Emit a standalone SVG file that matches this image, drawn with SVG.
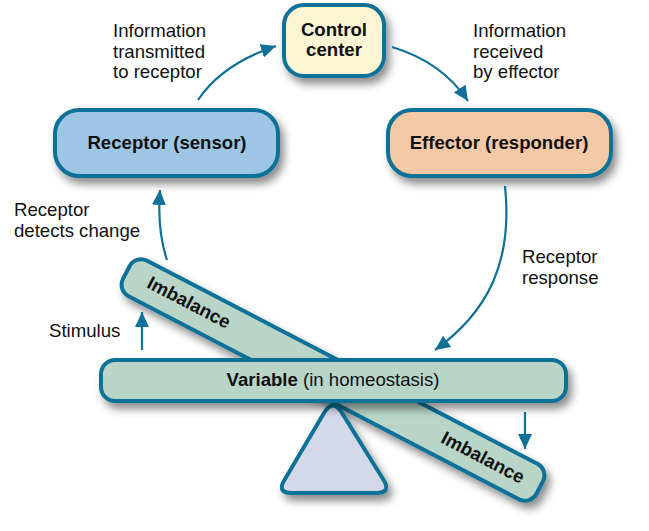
<svg xmlns="http://www.w3.org/2000/svg" width="649" height="531" viewBox="0 0 649 531">
<style>
.box{stroke:#0f7198;stroke-width:4}
.t{font-family:"Liberation Sans",Arial,sans-serif;font-size:18.6px;fill:#111}
.b{font-weight:bold}
.c{text-anchor:middle}
.con{fill:none;stroke:#0f7198;stroke-width:2.2}
</style>
<defs>
<filter id="sh" x="-20%" y="-20%" width="150%" height="160%">
<feDropShadow dx="4" dy="6" stdDeviation="4" flood-color="#000" flood-opacity="0.45"/>
</filter>
<marker id="ah" markerUnits="userSpaceOnUse" markerWidth="16" markerHeight="14" refX="15" refY="7" orient="auto">
<path d="M0,0 L15,7 L0,14 z" fill="#0f7198"/>
</marker>
</defs>
<rect width="649" height="531" fill="#fff"/>
<g id="imbalance" filter="url(#sh)">
<rect class="box" x="-233" y="-20" width="466" height="40" rx="13" fill="#b8d5c8" transform="translate(333,380) rotate(27.5)"/>
</g>
<g id="imbalance-labels">
<text class="t b c" transform="translate(186,308) rotate(27.5)">Imbalance</text>
<text class="t b c" transform="translate(480,463) rotate(27.5)">Imbalance</text>
</g>
<g id="fulcrum" filter="url(#sh)">
<path class="box" d="M324,413 Q333,398 342,413 L383,479 Q392,493 376,493 L292,493 Q276,493 285,479 Z" fill="#d4d9ea" stroke-linejoin="round"/>
</g>
<g id="variable">
<rect class="box" x="101" y="360" width="465" height="41" rx="14" fill="#b8d5c8" filter="url(#sh)"/>
<text class="t c" x="333" y="386"><tspan class="b">Variable</tspan> (in homeostasis)</text>
</g>
<g id="control-center">
<rect class="box" x="284" y="5" width="100" height="71" rx="20" fill="#fbf5d3" filter="url(#sh)"/>
<text class="t b c" x="334" y="36">Control</text>
<text class="t b c" x="334" y="56">center</text>
</g>
<g id="receptor">
<rect class="box" x="55" y="110" width="223" height="66" rx="24" fill="#9dc6e4" filter="url(#sh)"/>
<text class="t b c" x="167" y="149">Receptor (sensor)</text>
</g>
<g id="effector">
<rect class="box" x="388" y="110" width="223" height="66" rx="24" fill="#f5c9a6" filter="url(#sh)"/>
<text class="t b c" x="499" y="149">Effector (responder)</text>
</g>
<g id="connectors">
<path class="con" d="M198,100 Q222,64 276,46" marker-end="url(#ah)"/>
<path class="con" d="M392,47 Q442,62 468,101" marker-end="url(#ah)"/>
<path class="con" d="M505,186 C513,262 488,312 435,350" marker-end="url(#ah)"/>
<path class="con" d="M167,260 Q157,230 160,190" marker-end="url(#ah)"/>
<path class="con" d="M142,350 L142,312" marker-end="url(#ah)"/>
<path class="con" d="M525,412 L525,449" marker-end="url(#ah)"/>
</g>
<g id="labels">
<text class="t" x="113" y="37">Information</text>
<text class="t" x="113" y="58">transmitted</text>
<text class="t" x="113" y="78">to receptor</text>
<text class="t" x="473" y="37">Information</text>
<text class="t" x="473" y="58">received</text>
<text class="t" x="473" y="78">by effector</text>
<text class="t" x="14" y="216">Receptor</text>
<text class="t" x="14" y="237">detects change</text>
<text class="t" x="49" y="337">Stimulus</text>
<text class="t" x="522" y="263">Receptor</text>
<text class="t" x="522" y="284">response</text>
</g>
</svg>
